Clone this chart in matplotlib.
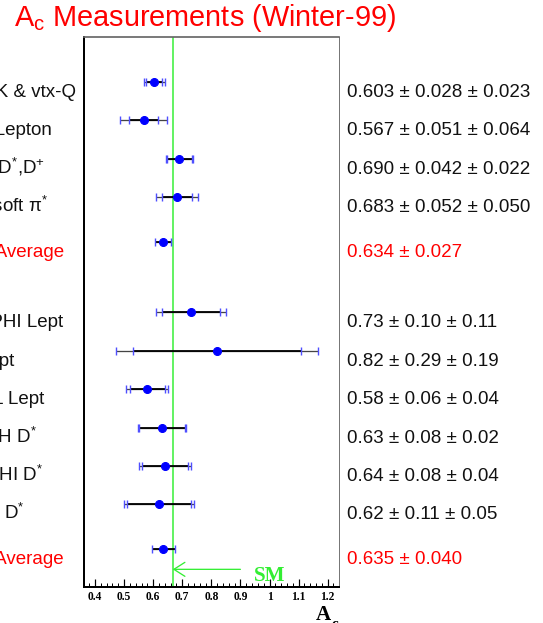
import matplotlib
matplotlib.use('Agg')
import matplotlib.pyplot as plt
import matplotlib.transforms as mtransforms
from matplotlib.ticker import MultipleLocator, FuncFormatter

plt.rcParams['mathtext.fontset'] = 'custom'
plt.rcParams['mathtext.rm'] = 'Liberation Sans'
plt.rcParams['mathtext.it'] = 'Liberation Sans:italic'
plt.rcParams['mathtext.bf'] = 'Liberation Sans:bold'
plt.rcParams['font.family'] = ['Liberation Sans', 'DejaVu Sans']

# ---------------- data ----------------
title = r'A$_{\mathrm{c}}$ Measurements (Winter-99)'
labels = ['SLD K & vtx-Q', 'SLD Lepton', r'SLD D$^{\mathrm{*}}$,D$^{\mathrm{+}}$',
          r'SLD soft π$^{\mathrm{*}}$', 'SLD Average',
          'DELPHI Lept', 'L3 Lept', 'OPAL Lept', r'ALEPH D$^{\mathrm{*}}$',
          r'DELPHI D$^{\mathrm{*}}$', r'OPAL D$^{\mathrm{*}}$', 'LEP Average']
is_average = [False, False, False, False, True,
              False, False, False, False, False, False, True]
values = [0.603, 0.567, 0.690, 0.683, 0.634,
          0.73, 0.82, 0.58, 0.63, 0.64, 0.62, 0.635]
stat_err = [0.028, 0.051, 0.042, 0.052, 0.027,
            0.10, 0.29, 0.06, 0.08, 0.08, 0.11, 0.040]
total_err = [0.036, 0.082, 0.047, 0.072, 0.027,
             0.12, 0.347, 0.072, 0.0825, 0.089, 0.121, 0.040]
value_texts = ['0.603 ± 0.028 ± 0.023', '0.567 ± 0.051 ± 0.064',
               '0.690 ± 0.042 ± 0.022', '0.683 ± 0.052 ± 0.050',
               '0.634 ± 0.027',
               '0.73 ± 0.10 ± 0.11', '0.82 ± 0.29 ± 0.19', '0.58 ± 0.06 ± 0.04',
               '0.63 ± 0.08 ± 0.02', '0.64 ± 0.08 ± 0.04', '0.62 ± 0.11 ± 0.05',
               '0.635 ± 0.040']
sm_value = 0.667

# ---------------- layout ----------------
W, H = 543, 623
row_pos = [1, 2, 3, 4, 5.16, 7, 8, 9, 10, 11, 12, 13.16]
label_right_px = [76, 52, 45, 48, 64, 62.7, 14, 44, 37.3, 43.3, 25, 63.3]
green = '#33ee33'
capblue = '#4f4fff'
fs = 18.8

fig = plt.figure(figsize=(W / 72, H / 72), dpi=72)
ax = fig.add_axes([84 / W, (H - 587) / H, (339 - 84) / W, (587 - 37) / H])
ax.set_xlim(0.362, 1.239)
ax.set_ylim(14.15, -0.17)

ax.axvline(sm_value, color=green, lw=1.5, zorder=1)

for y, v, s, t in zip(row_pos, values, stat_err, total_err):
    ax.hlines(y, v - t, v + t, color='#444444', lw=1.3, zorder=2)
    ax.hlines(y, v - s, v + s, color='black', lw=1.8, zorder=3)
    caps = sorted(set([v - t, v - s, v + s, v + t]))
    ax.plot(caps, [y] * len(caps), ls='none', marker='|', ms=8, mew=1.4,
            color=capblue, zorder=4)
ax.plot(values, row_pos, ls='none', marker='o', ms=8, color='blue', zorder=5)

# SM arrow and label
ax.annotate('', xy=(sm_value, 13.69), xytext=(0.9, 13.69),
            arrowprops=dict(arrowstyle='->,head_length=1.1,head_width=0.7',
                            color=green, lw=1.3, shrinkA=0, shrinkB=0))
ax.text(0.947, 14.0, 'SM', color=green, fontsize=21, fontweight='bold',
        family='Liberation Serif', ha='left', va='baseline')

# row texts
off = mtransforms.ScaledTranslation(0, -15 / 72, fig.dpi_scale_trans)
for y, lab, xr, avg, vt in zip(row_pos, labels, label_right_px, is_average, value_texts):
    col = 'red' if avg else '#111111'
    tr_l = mtransforms.blended_transform_factory(fig.transFigure, ax.transData) + off
    ax.text(xr / W, y, lab, transform=tr_l, ha='right', va='baseline',
            fontsize=fs, color=col, clip_on=False)
    ax.text(347.3 / W, y, vt, transform=tr_l, ha='left', va='baseline',
            fontsize=fs, color=col, clip_on=False)

# axes styling
ax.set_yticks([])
ax.xaxis.set_major_locator(MultipleLocator(0.1))
ax.xaxis.set_minor_locator(MultipleLocator(0.02))
ax.xaxis.set_major_formatter(FuncFormatter(lambda v, p: f'{v:g}'))
ax.tick_params(axis='x', which='major', direction='in', length=8, width=1.2,
               pad=4, labelsize=11.5)
ax.tick_params(axis='x', which='minor', direction='in', length=4, width=1.0)
for lab in ax.get_xticklabels():
    lab.set_fontfamily('Liberation Serif')
    lab.set_fontweight('bold')
ax.spines['left'].set_linewidth(2)
ax.spines['left'].set_color('black')
ax.spines['bottom'].set_linewidth(2)
ax.spines['bottom'].set_color('black')
ax.spines['top'].set_linewidth(1.7)
ax.spines['top'].set_color('#666666')
ax.spines['right'].set_linewidth(1.0)
ax.spines['right'].set_color('#777777')

# title and axis title
fig.text(14 / W, 1 - 26 / H, title, ha='left', va='baseline', color='red', fontsize=28.9)
fig.text(316 / W, 1 - 620 / H, 'A', ha='left', va='baseline', fontsize=21,
         fontweight='bold', family='Liberation Serif')
fig.text(331 / W, 1 - 628 / H, 'c', ha='left', va='baseline', fontsize=15,
         fontweight='bold', family='Liberation Serif')

fig.savefig('out.png', dpi=72)
